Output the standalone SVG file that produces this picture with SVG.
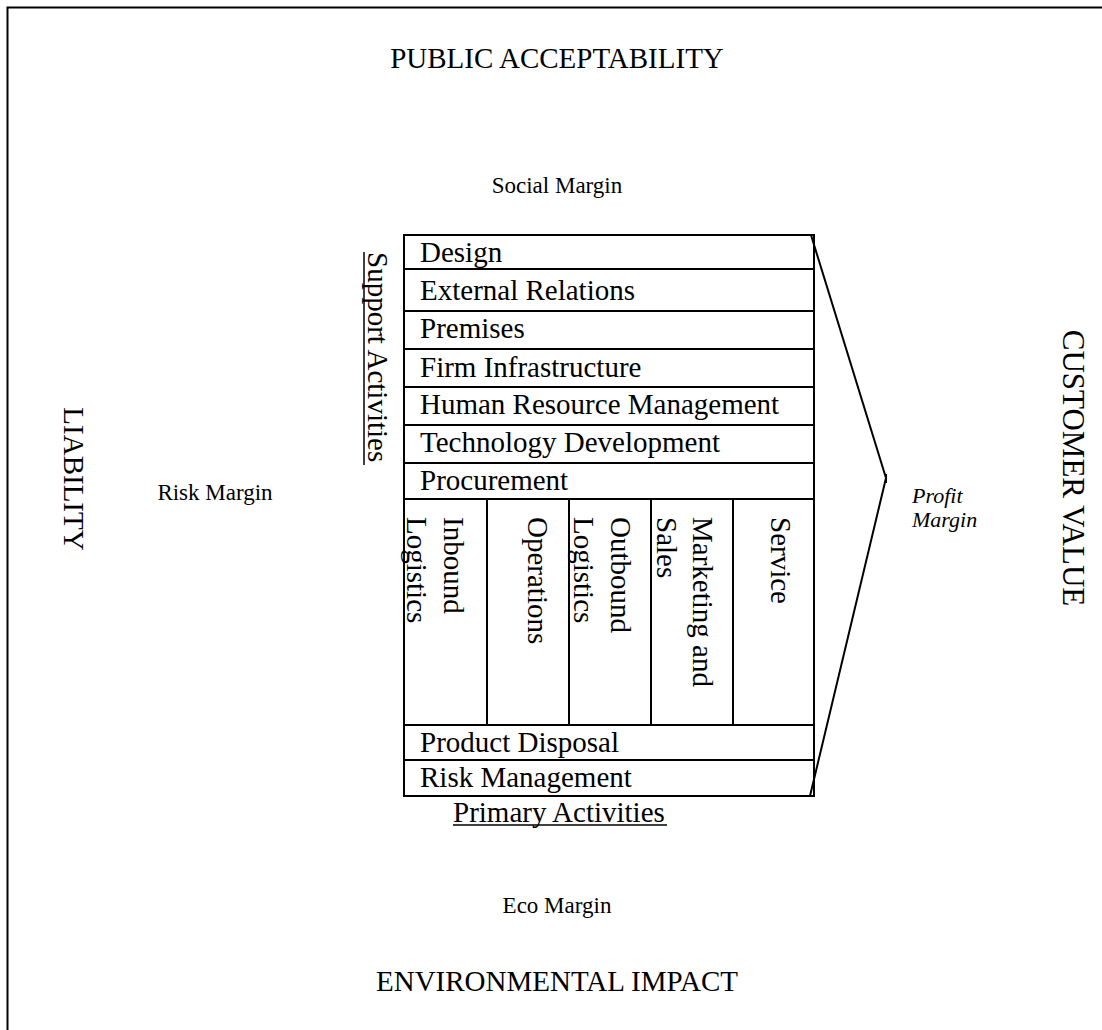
<svg xmlns="http://www.w3.org/2000/svg" width="1102" height="1030" viewBox="0 0 1102 1030">
<style>
text{font-family:"Liberation Serif","Times New Roman",serif;fill:#000}
.big{font-size:29px}
.box{font-size:29px}
.mg{font-size:23px}
.pm{font-size:22px;font-style:italic}
.cell{fill:#fff;stroke:#000;stroke-width:2}
.ln{fill:none;stroke:#000;stroke-width:2}
.ul{stroke:#000;stroke-width:1.5}
</style>
<rect width="1102" height="1030" fill="#fff"/>
<path class="ln" d="M7.5,1030 V7.5 H1102"/>

<g id="outer-labels">
<text class="big" x="557" y="68" text-anchor="middle">PUBLIC ACCEPTABILITY</text>
<text class="big" x="557" y="991" text-anchor="middle">ENVIRONMENTAL IMPACT</text>
<text class="big" transform="translate(64,479) rotate(90)" text-anchor="middle">LIABILITY</text>
<text class="big" style="font-size:31px" transform="translate(1063,468) rotate(90)" text-anchor="middle">CUSTOMER VALUE</text>
<text class="mg" x="557" y="193" text-anchor="middle">Social Margin</text>
<text class="mg" x="557" y="913" text-anchor="middle">Eco Margin</text>
<text class="mg" x="215" y="500" text-anchor="middle">Risk Margin</text>
<text class="pm" x="912" y="503">Profit</text>
<text class="pm" x="912" y="527">Margin</text>
</g>

<g id="support-activities-label">
<text class="box" transform="translate(368,252) rotate(90)">Support Activities</text>
<line class="ul" x1="364" y1="252" x2="364" y2="465"/>
</g>

<g id="design"><rect class="cell" x="404" y="235" width="410" height="34"/><text class="box" x="420" y="262">Design</text></g>
<g id="external-relations"><rect class="cell" x="404" y="269" width="410" height="42"/><text class="box" x="420" y="300">External Relations</text></g>
<g id="premises"><rect class="cell" x="404" y="311" width="410" height="38"/><text class="box" x="420" y="338">Premises</text></g>
<g id="firm-infrastructure"><rect class="cell" x="404" y="349" width="410" height="38"/><text class="box" x="420" y="377">Firm Infrastructure</text></g>
<g id="human-resource-management"><rect class="cell" x="404" y="387" width="410" height="38"/><text class="box" x="420" y="414">Human Resource Management</text></g>
<g id="technology-development"><rect class="cell" x="404" y="425" width="410" height="38"/><text class="box" x="420" y="452">Technology Development</text></g>
<g id="procurement"><rect class="cell" x="404" y="463" width="410" height="36"/><text class="box" x="420" y="490">Procurement</text></g>

<g id="inbound-logistics"><rect class="cell" x="404" y="499" width="83" height="226"/>
<text class="box" transform="translate(444,517) rotate(90)">Inbound</text>
<text class="box" transform="translate(407,517) rotate(90)">Logistics</text></g>
<g id="operations"><rect class="cell" x="487" y="499" width="82" height="226"/>
<text class="box" transform="translate(528,517) rotate(90)">Operations</text></g>
<g id="outbound-logistics"><rect class="cell" x="569" y="499" width="82" height="226"/>
<text class="box" transform="translate(611,517) rotate(90)">Outbound</text>
<text class="box" transform="translate(574,517) rotate(90)">Logistics</text></g>
<g id="marketing-and-sales"><rect class="cell" x="651" y="499" width="82" height="226"/>
<text class="box" transform="translate(693,517) rotate(90)">Marketing and</text>
<text class="box" transform="translate(657,517) rotate(90)">Sales</text></g>
<g id="service"><rect class="cell" x="733" y="499" width="81" height="226"/>
<text class="box" transform="translate(771,517) rotate(90)">Service</text></g>

<g id="product-disposal"><rect class="cell" x="404" y="725" width="410" height="35"/><text class="box" x="420" y="752">Product Disposal</text></g>
<g id="risk-management"><rect class="cell" x="404" y="760" width="410" height="36"/><text class="box" x="420" y="787">Risk Management</text></g>

<g id="primary-activities-label">
<text class="box" x="453" y="822">Primary Activities</text>
<line class="ul" x1="453" y1="825" x2="667" y2="825"/>
</g>

<g id="connectors">
<polyline class="ln" points="811,235 886,478 810,796"/>
<line class="ln" x1="886" y1="474" x2="886" y2="483"/>
</g>
</svg>
